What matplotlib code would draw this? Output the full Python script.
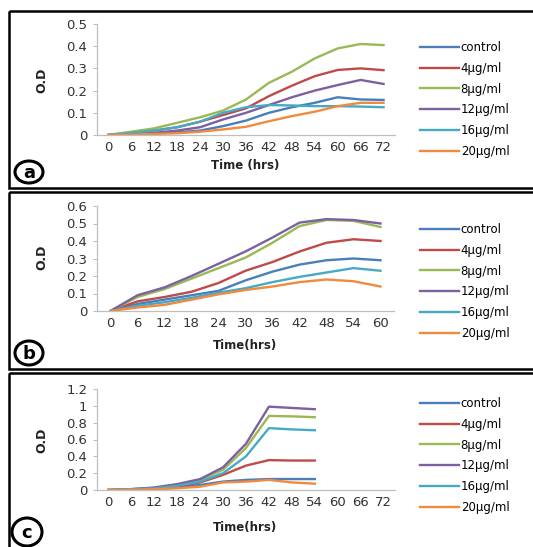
import matplotlib
matplotlib.use('Agg')
import matplotlib.pyplot as plt
from matplotlib.patches import Rectangle, Ellipse

W, H = 533, 547

series_names = ['control', '4µg/ml', '8µg/ml', '12µg/ml', '16µg/ml', '20µg/ml']
colors = ['#4A7EBB', '#BE4B48', '#98B954', '#7D60A0', '#46AAC5', '#F08A3E']

# panel a : 0..72 h
time_a = [0, 6, 12, 18, 24, 30, 36, 42, 48, 54, 60, 66, 72]
a_control = [0, 0.005, 0.008, 0.012, 0.02, 0.04, 0.065, 0.10, 0.125, 0.145, 0.17, 0.16, 0.158]
a_4 = [0, 0.01, 0.02, 0.035, 0.06, 0.09, 0.12, 0.175, 0.222, 0.265, 0.293, 0.30, 0.292]
a_8 = [0, 0.015, 0.03, 0.055, 0.08, 0.11, 0.16, 0.235, 0.285, 0.345, 0.39, 0.41, 0.405]
a_12 = [0, 0.005, 0.01, 0.02, 0.035, 0.07, 0.10, 0.135, 0.17, 0.20, 0.225, 0.248, 0.23]
a_16 = [0, 0.01, 0.02, 0.035, 0.06, 0.10, 0.125, 0.135, 0.133, 0.13, 0.13, 0.128, 0.125]
a_20 = [0, 0.002, 0.005, 0.008, 0.015, 0.025, 0.037, 0.062, 0.085, 0.105, 0.13, 0.145, 0.145]

# panel b : 0..60 h
time_b = [0, 6, 12, 18, 24, 30, 36, 42, 48, 54, 60]
b_control = [0, 0.04, 0.065, 0.09, 0.115, 0.175, 0.225, 0.265, 0.29, 0.30, 0.29]
b_4 = [0, 0.055, 0.08, 0.11, 0.16, 0.23, 0.28, 0.34, 0.39, 0.41, 0.40]
b_8 = [0, 0.08, 0.125, 0.185, 0.245, 0.305, 0.39, 0.485, 0.52, 0.515, 0.48]
b_12 = [0, 0.09, 0.135, 0.20, 0.27, 0.34, 0.42, 0.505, 0.525, 0.52, 0.50]
b_16 = [0, 0.03, 0.05, 0.075, 0.105, 0.13, 0.165, 0.195, 0.22, 0.245, 0.23]
b_20 = [0, 0.02, 0.035, 0.065, 0.095, 0.12, 0.14, 0.165, 0.18, 0.17, 0.14]

# panel c : axis 0..72 h, data up to 54 h
time_c = [0, 6, 12, 18, 24, 30, 36, 42, 48, 54, 60, 66, 72]
c_control = [0, 0.005, 0.015, 0.03, 0.06, 0.10, 0.12, 0.13, 0.13, 0.13]
c_4 = [0, 0.005, 0.02, 0.04, 0.09, 0.18, 0.29, 0.355, 0.35, 0.35]
c_8 = [0, 0.01, 0.025, 0.06, 0.12, 0.24, 0.50, 0.88, 0.875, 0.865]
c_12 = [0, 0.01, 0.03, 0.07, 0.13, 0.27, 0.55, 0.99, 0.975, 0.96]
c_16 = [0, 0.01, 0.02, 0.05, 0.10, 0.20, 0.40, 0.735, 0.72, 0.71]
c_20 = [0, 0.002, 0.01, 0.02, 0.04, 0.09, 0.10, 0.12, 0.09, 0.075]

yt_a = [0, 0.1, 0.2, 0.3, 0.4, 0.5]
yt_b = [0, 0.1, 0.2, 0.3, 0.4, 0.5, 0.6]
yt_c = [0, 0.2, 0.4, 0.6, 0.8, 1.0, 1.2]

panels = [
    dict(time=time_a, data=[a_control, a_4, a_8, a_12, a_16, a_20], yt=yt_a,
         px=(97, 395, 135, 24), xlabel='Time (hrs)', xl_y=166, yl_y=80,
         box=(9, 11, 188), letter='a', circ=(29, 172, 28, 22), leg_y=48),
    dict(time=time_b, data=[b_control, b_4, b_8, b_12, b_16, b_20], yt=yt_b,
         px=(97, 394, 311, 206), xlabel='Time(hrs)', xl_y=345, yl_y=257,
         box=(9, 192, 369), letter='b', circ=(29, 353, 28, 24), leg_y=230),
    dict(time=time_c, data=[c_control, c_4, c_8, c_12, c_16, c_20], yt=yt_c,
         px=(97, 395, 490, 389), xlabel='Time(hrs)', xl_y=527, yl_y=440,
         box=(9, 373, 560), letter='c', circ=(27, 532, 30, 28), leg_y=404),
]

fig = plt.figure(figsize=(W / 100, H / 100), dpi=100)

for p in panels:
    x0, x1, y0, y1 = p['px']
    ax = fig.add_axes([x0 / W, 1 - y0 / H, (x1 - x0) / W, (y0 - y1) / H])
    n = len(p['time'])
    for vals, c, name in zip(p['data'], colors, series_names):
        ax.plot(range(len(vals)), vals, color=c, lw=1.7, label=name)
    ax.set_xlim(-0.5, n - 0.5)
    ax.set_ylim(p['yt'][0], p['yt'][-1])
    ax.set_xticks(range(n))
    ax.set_xticklabels([str(t) for t in p['time']])
    ax.set_yticks(p['yt'])
    ax.set_yticklabels(['{:g}'.format(v) for v in p['yt']])
    for s in ['top', 'right']:
        ax.spines[s].set_visible(False)
    for s in ['left', 'bottom']:
        ax.spines[s].set_color('#BFBFBF')
        ax.spines[s].set_linewidth(0.9)
    ax.tick_params(axis='x', length=0, pad=4, labelsize=9.5, colors='#333333')
    ax.tick_params(axis='y', length=3, width=0.8, color='#BFBFBF', pad=4,
                   labelsize=9.5, labelcolor='#333333')
    ax.patch.set_alpha(0)
    fig.legend(*ax.get_legend_handles_labels(), loc='upper left',
               bbox_to_anchor=(420 / W, 1 - (p['leg_y'] - 7) / H),
               frameon=False, fontsize=8.5, handlelength=3.3, handletextpad=0.15,
               labelspacing=0.66, borderaxespad=0, borderpad=0)

# overlay for frames, letters and axis titles
ov = fig.add_axes([0, 0, 1, 1])
ov.set_xlim(0, W)
ov.set_ylim(H, 0)
ov.axis('off')
ov.patch.set_alpha(0)
for p in panels:
    bx, by0, by1 = p['box']
    ov.add_patch(Rectangle((bx, by0), W + 20 - bx, by1 - by0, fill=False,
                           lw=1.8, ec='black'))
    cx, cy, cw, ch = p['circ']
    ov.add_patch(Ellipse((cx, cy), cw, ch, fill=False, lw=2.2, ec='black'))
    ov.text(cx, cy + 1, p['letter'], ha='center', va='center', fontsize=13,
            fontweight='bold')
    ov.text(245, p['xl_y'], p['xlabel'], ha='center', va='center', fontsize=8.5,
            fontweight='bold', color='#222222')
    ov.text(42, p['yl_y'], 'O.D', ha='center', va='center', rotation=90,
            fontsize=9, fontweight='bold', color='#222222')

fig.savefig('out.png', dpi=100)
